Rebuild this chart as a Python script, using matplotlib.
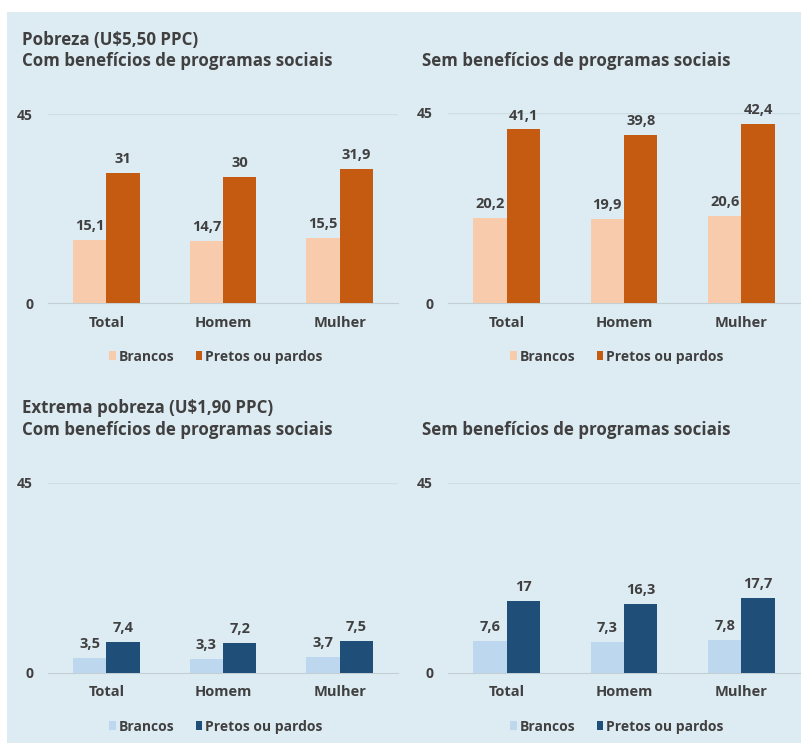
import numpy as np
import matplotlib.pyplot as plt
from matplotlib.patches import Rectangle, Patch

categorias = ['Total', 'Homem', 'Mulher']
series = ['Brancos', 'Pretos ou pardos']

pobreza_com = [[15.1, 14.7, 15.5], [31, 30, 31.9]]
pobreza_sem = [[20.2, 19.9, 20.6], [41.1, 39.8, 42.4]]
extrema_com = [[3.5, 3.3, 3.7], [7.4, 7.2, 7.5]]
extrema_sem = [[7.6, 7.3, 7.8], [17, 16.3, 17.7]]

cores_laranja = ['#F8CBAD', '#C55A11']
cores_azul = ['#BDD7EE', '#1F4E79']
fundo = '#DDEBF2'
texto = '#404040'

plt.rcParams['font.family'] = ['Open Sans', 'DejaVu Sans']

W, H = 801, 743
fig = plt.figure(figsize=(W / 100, H / 100), dpi=100)
fig.patch.set_facecolor('white')
fig.patches.append(Rectangle((7 / W, 0), 1, 1 - 12 / H, transform=fig.transFigure,
                             facecolor=fundo, edgecolor='none', zorder=-5))


def px_axes(x0, x1, ytop, ybot):
    # converte pixels (origem no topo) para fração da figura
    return fig.add_axes([x0 / W, 1 - ybot / H, (x1 - x0) / W, (ybot - ytop) / H])


def fmt(v):
    return f'{v:g}'.replace('.', ',')


def painel(ax, dados, cores):
    x = np.arange(len(categorias))
    w = 0.285
    for i, (vals, cor) in enumerate(zip(dados, cores)):
        bars = ax.bar(x + (i - 0.5) * w, vals, w, color=cor, label=series[i], zorder=3)
        ax.bar_label(bars, labels=[fmt(v) for v in vals], padding=5, fontsize=10.5,
                     fontweight='bold', color=texto)
    ax.set_xlim(-0.5, 2.5)
    ax.set_ylim(0, 45)
    ax.set_yticks([0, 45])
    ax.set_facecolor('none')
    ax.axhline(45, color='#CFDDE4', lw=1, zorder=1)
    for s in ['top', 'right', 'left']:
        ax.spines[s].set_visible(False)
    ax.spines['bottom'].set_color('#C4CFD4')
    ax.tick_params(axis='both', length=0, colors=texto)
    ax.set_xticks(x)
    ax.set_xticklabels(categorias, fontsize=10.5, fontweight='bold', color=texto)
    ax.tick_params(axis='x', pad=9)
    for t in ax.get_yticklabels():
        t.set_fontsize(10)
        t.set_fontweight('bold')
    ax.yaxis.set_tick_params(pad=10.8)
    handles = [Patch(facecolor=c, edgecolor='none') for c in cores]
    ax.legend(handles, series, loc='upper center', bbox_to_anchor=(0.48, -0.18),
              ncol=2, frameon=False, handlelength=0.45, handleheight=0.65,
              handletextpad=0.25, columnspacing=1.5,
              prop={'weight': 'bold', 'size': 10}, labelcolor=texto)


ax1 = px_axes(48, 398, 114, 303)
ax2 = px_axes(448, 800, 113, 303)
ax3 = px_axes(48, 398, 483, 673)
ax4 = px_axes(448, 800, 483, 673)

painel(ax1, pobreza_com, cores_laranja)
painel(ax2, pobreza_sem, cores_laranja)
painel(ax3, extrema_com, cores_azul)
painel(ax4, extrema_sem, cores_azul)

tit = dict(fontsize=12.2, fontweight='bold', color=texto, va='center', ha='left')
fig.text(22 / W, 1 - 40 / H, 'Pobreza (U$5,50 PPC)', **tit)
fig.text(22 / W, 1 - 61 / H, 'Com benefícios de programas sociais', **tit)
fig.text(422 / W, 1 - 61 / H, 'Sem benefícios de programas sociais', **tit)
fig.text(22 / W, 1 - 408 / H, 'Extrema pobreza (U$1,90 PPC)', **tit)
fig.text(22 / W, 1 - 430 / H, 'Com benefícios de programas sociais', **tit)
fig.text(422 / W, 1 - 430 / H, 'Sem benefícios de programas sociais', **tit)

fig.savefig('out.png', dpi=100, facecolor=fig.get_facecolor())
